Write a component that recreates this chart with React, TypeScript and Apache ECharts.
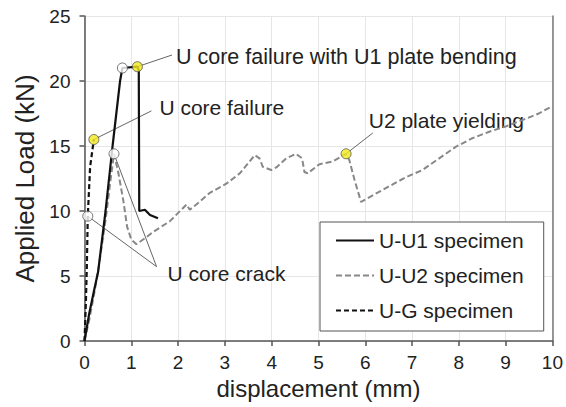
import React, { useEffect, useRef } from "react";
import * as echarts from "echarts";

// ---- data ----
const seriesNames = ["U-U1 specimen", "U-U2 specimen", "U-G specimen"];

const u1X = [0, 0.1, 0.2, 0.29, 0.45, 0.6, 0.76, 0.81, 1.13, 1.16, 1.17, 1.29, 1.4, 1.57];
const u1Y = [0, 2.1, 3.8, 5.3, 10.0, 15.0, 20.0, 21.0, 21.1, 20.8, 10.0, 10.1, 9.7, 9.44];

const u2X = [0, 0.1, 0.2, 0.3, 0.45, 0.55, 0.63, 0.72, 0.83, 0.91, 1.0, 1.11, 1.33, 1.47, 1.82, 2.18, 2.25, 2.39, 2.68, 3.03, 3.32, 3.64, 3.74, 3.81, 3.99, 4.1, 4.31, 4.52, 4.65, 4.7, 4.77, 5.02, 5.3, 5.59, 5.66, 5.77, 5.91, 6.16, 6.51, 6.87, 7.22, 7.58, 7.94, 8.29, 8.65, 9.0, 9.36, 9.71, 9.96];
const u2Y = [0, 1.6, 3.5, 5.6, 9.3, 12.2, 14.4, 13.0, 10.8, 8.8, 7.8, 7.45, 8.0, 8.4, 9.2, 10.5, 10.1, 10.5, 11.4, 12.1, 12.9, 14.3, 14.05, 13.4, 13.15, 13.35, 14.05, 14.4, 14.05, 13.0, 12.9, 13.6, 13.8, 14.4, 13.9, 12.4, 10.7, 11.2, 11.9, 12.6, 13.15, 14.05, 14.95, 15.6, 16.1, 16.5, 17.0, 17.5, 18.0];

const ugX = [0, 0.03, 0.05, 0.07, 0.12, 0.2];
const ugY = [0, 3.0, 5.7, 9.6, 13.4, 15.5];

const whitePts = [[0.07, 9.6], [0.63, 14.4], [0.81, 21.0]];
const yellowPts = [[0.2, 15.5], [1.13, 21.1], [5.59, 14.4]];

const annoText = ["U core failure with U1 plate bending", "U core failure", "U2 plate yielding", "U core crack"];
const annoFrom = [[[1.13, 21.1]], [[0.2, 15.5]], [[5.59, 14.4]], [[0.07, 9.6], [0.63, 14.4]]];
const annoTo = [[1.87, 22.0], [1.43, 17.7], [6.16, 16.0], [1.54, 5.72]];

const xTicks = { min: 0, max: 10, interval: 1 };
const yTicks = { min: 0, max: 25, interval: 5 };

const FONT = "'Liberation Sans', Arial, sans-serif";

const zip = (xs: number[], ys: number[]) => xs.map((x, i) => [x, ys[i]]);

// label placement for each annotation (style only)
const annoLabelStyle = [
  { distance: 4, offset: [0, 2], size: 21.5 },
  { distance: 8, offset: [0, -3], size: 21 },
  { distance: 0, offset: [-4, -13], size: 21 },
  { distance: 11, offset: [0, 7], size: 21 },
];

export default function App() {
  const ref = useRef<HTMLDivElement>(null);
  useEffect(() => {
    if (!ref.current) return;
    const chart = echarts.init(ref.current, undefined, { renderer: "svg" });

    const leaderSeries: any[] = [];
    annoText.forEach((t, i) => {
      annoFrom[i].forEach((f, j) => {
        leaderSeries.push({
          type: "line",
          silent: true,
          symbol: "circle",
          symbolSize: 0,
          showSymbol: true,
          z: 3,
          lineStyle: { color: "#666", width: 1 },
          itemStyle: { color: "#666" },
          data: [
            { value: f, label: { show: false } },
            {
              value: annoTo[i],
              label: {
                show: j === 0,
                formatter: t,
                position: "right",
                distance: annoLabelStyle[i].distance,
                offset: annoLabelStyle[i].offset,
                fontFamily: FONT,
                fontSize: annoLabelStyle[i].size,
                color: "#222",
              },
            },
          ],
        });
      });
    });

    const option: any = {
      animation: false,
      backgroundColor: "#fff",
      textStyle: { fontFamily: FONT },
      grid: { left: 84.5, right: 13, top: 16, bottom: 66, containLabel: false },
      legend: {
        data: seriesNames,
        orient: "vertical",
        left: 320,
        top: 222,
        itemWidth: 38,
        itemHeight: 14,
        itemGap: 14,
        padding: [8, 20, 10, 15],
        borderColor: "#555",
        borderWidth: 1,
        backgroundColor: "#fff",
        itemStyle: { opacity: 0, borderWidth: 0 },
        textStyle: { fontFamily: FONT, fontSize: 21, color: "#222", lineHeight: 21 },
      },
      xAxis: {
        type: "value",
        min: xTicks.min,
        max: xTicks.max,
        interval: xTicks.interval,
        name: "displacement (mm)",
        nameLocation: "middle",
        nameGap: 31,
        nameTextStyle: { fontFamily: FONT, fontSize: 24, color: "#222" },
        axisLine: { show: true, lineStyle: { color: "#555", width: 1.5 } },
        axisTick: { show: true, length: 5, lineStyle: { color: "#555", width: 1.5 } },
        axisLabel: { fontFamily: FONT, fontSize: 19, color: "#222", margin: 12 },
        splitLine: { show: true, lineStyle: { color: "#e6e6e6", width: 1 } },
      },
      yAxis: [
        {
          type: "value",
          min: yTicks.min,
          max: yTicks.max,
          interval: yTicks.interval,
          name: "Applied Load (kN)",
          nameLocation: "middle",
          nameGap: 44,
          nameTextStyle: { fontFamily: FONT, fontSize: 26, color: "#222" },
          axisLine: { show: true, lineStyle: { color: "#555", width: 1.5 } },
          axisTick: { show: true, length: 5, lineStyle: { color: "#555", width: 1.5 } },
          axisLabel: { fontFamily: FONT, fontSize: 19, color: "#222", margin: 14 },
          splitLine: { show: true, lineStyle: { color: "#e6e6e6", width: 1 } },
        },
        {
          type: "value",
          position: "right",
          min: yTicks.min,
          max: yTicks.max,
          interval: yTicks.interval,
          axisLine: { show: true, lineStyle: { color: "#777", width: 1.5 } },
          axisTick: { show: false },
          axisLabel: { show: false },
          splitLine: { show: false },
        },
      ],
      series: [
        ...leaderSeries,
        {
          name: seriesNames[1],
          type: "line",
          symbol: "none",
          z: 4,
          data: zip(u2X, u2Y),
          lineStyle: { color: "#888", width: 2, type: [6, 3] },
          itemStyle: { color: "#888" },
        },
        {
          name: seriesNames[0],
          type: "line",
          symbol: "none",
          z: 5,
          data: zip(u1X, u1Y),
          lineStyle: { color: "#111", width: 2.2 },
          itemStyle: { color: "#111" },
        },
        {
          name: seriesNames[2],
          type: "line",
          symbol: "none",
          z: 5,
          data: zip(ugX, ugY),
          lineStyle: { color: "#111", width: 2.2, type: [5, 3] },
          itemStyle: { color: "#111" },
        },
        {
          type: "scatter",
          silent: true,
          z: 6,
          symbolSize: 10,
          data: whitePts,
          itemStyle: { color: "#fff", borderColor: "#555", borderWidth: 1 },
        },
        {
          type: "scatter",
          silent: true,
          z: 6,
          symbolSize: 10,
          data: yellowPts,
          itemStyle: { color: "#f2e81c", borderColor: "#555", borderWidth: 1 },
        },
      ],
    };
    chart.setOption(option);
    return () => chart.dispose();
  }, []);
  return (
    <div
      ref={ref}
      style={{ position: "absolute", left: 0, top: 0, width: 566, height: 407 }}
    />
  );
}
